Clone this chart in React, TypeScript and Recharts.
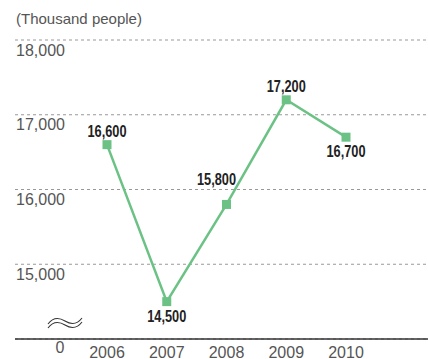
import { LineChart, Line, XAxis, YAxis, CartesianGrid, LabelList, Customized } from 'recharts'

const years = ['2006', '2007', '2008', '2009', '2010']
const people = [16600, 14500, 15800, 17200, 16700]
const yTicks = [14000, 15000, 16000, 17000, 18000]
const labelSide = ['top', 'bottom', 'topLeft', 'top', 'bottom']

const data = years.map((y, i) => ({ year: y, value: people[i] }))

const GREEN = '#6cc285'
const fmt = (v) => v.toLocaleString('en-US')

const YTick = ({ y, payload }) => {
  if (payload.value === 14000) {
    return <text x={60} y={y + 14} textAnchor="middle" fontSize={16} fill="#555" fontFamily="Liberation Sans, Arial, sans-serif">0</text>
  }
  return (
    <text x={16} y={y + 15.5} textAnchor="start" fontSize={16} fill="#555" fontFamily="Liberation Sans, Arial, sans-serif">
      {fmt(payload.value)}
    </text>
  )
}

const XTick = ({ x, y, payload }) => (
  <text x={x} y={y + 10.5} textAnchor="middle" fontSize={16} fill="#555" fontFamily="Liberation Sans, Arial, sans-serif">
    {payload.value}
  </text>
)

const Square = ({ cx, cy, index }) => (
  <rect key={`dot-${index}`} x={cx - 4.5} y={cy - 4.5} width={9} height={9} fill={GREEN} />
)

const ValueLabel = ({ x, y, value, index }) => {
  const side = labelSide[index]
  let dx = 0
  let dy = -13.5
  if (side === 'bottom') dy = 14.5
  if (side === 'topLeft') { dx = -10; dy = -24.5 }
  return (
    <text
      x={x + dx}
      y={y + dy + 5.5}
      textAnchor="middle"
      fontSize={16}
      fontWeight="bold"
      fill="#222"
      fontFamily="Liberation Sans, Arial, sans-serif"
      textLength={39}
      lengthAdjust="spacingAndGlyphs"
    >
      {fmt(value)}
    </text>
  )
}

// axis break mark drawn by hand
const BreakMark = () => (
  <g fill="none" stroke="#333" strokeWidth={1.1}>
    <path d="M48,324 C54,316 60,318 65,321 C70,324 76,326 82,318" />
    <path d="M48,328 C54,320 60,322 65,325 C70,328 76,330 82,322" />
  </g>
)

export default function App() {
  return (
    <div style={{ position: 'absolute', left: 0, top: 0, width: 428, height: 359, background: '#fff' }}>
      <div
        style={{
          position: 'absolute',
          left: 16,
          top: 10,
          fontSize: 15,
          color: '#555',
          fontFamily: 'Liberation Sans, Arial, sans-serif',
          lineHeight: '18px',
        }}
      >
        (Thousand people)
      </div>
      <LineChart width={428} height={359} data={data} margin={{ top: 40, right: 0, bottom: 0, left: 0 }}>
        <CartesianGrid horizontal vertical={false} stroke="#999" strokeDasharray="3 3" />
        <XAxis
          dataKey="year"
          height={20}
          padding={{ left: 92, right: 82 }}
          tickLine={false}
          axisLine={{ stroke: '#333', strokeWidth: 1.5 }}
          tick={XTick}
          interval={0}
        />
        <YAxis
          width={15}
          domain={[14000, 18000]}
          ticks={yTicks}
          axisLine={false}
          tickLine={false}
          tick={YTick}
          interval={0}
        />
        <Line
          type="linear"
          dataKey="value"
          stroke={GREEN}
          strokeWidth={2.5}
          dot={Square}
          activeDot={false}
          isAnimationActive={false}
        >
          <LabelList dataKey="value" content={ValueLabel} />
        </Line>
        <Customized component={BreakMark} />
      </LineChart>
    </div>
  )
}
